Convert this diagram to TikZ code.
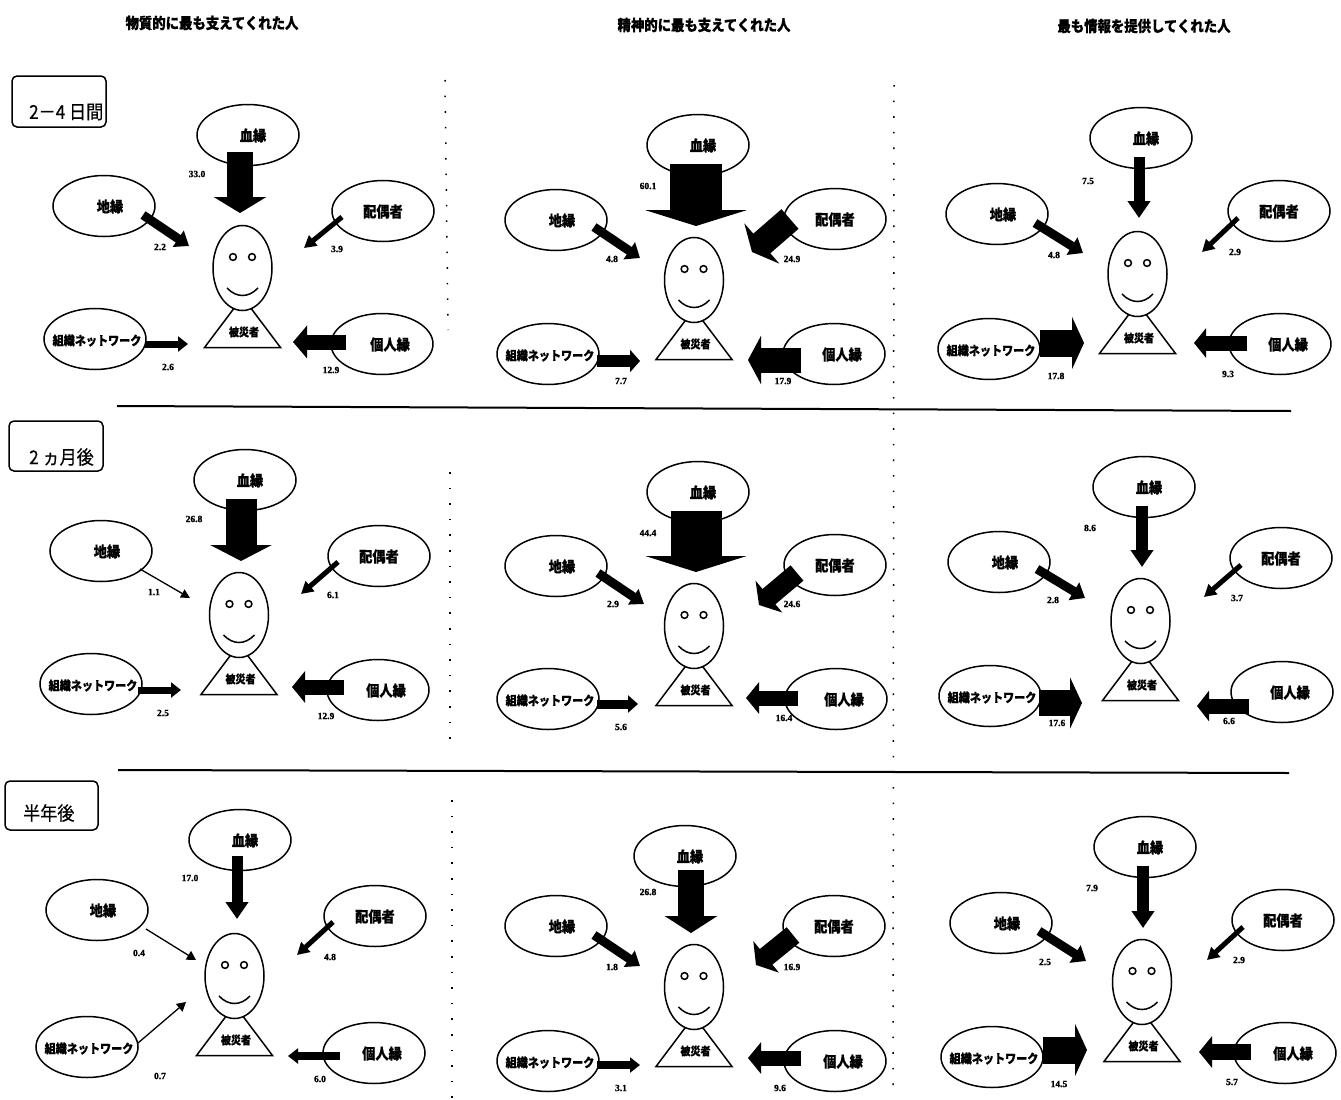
\documentclass[tikz,border=0pt]{standalone}
\usepackage{fontspec}
\setmainfont{Noto Sans CJK JP}[BoldFeatures={FakeStretch=0.88,FakeBold=0.6}]
\newfontfamily\numfont{Liberation Serif}[BoldFeatures={FakeBold=1.2}]
\newfontfamily\rowfont{Noto Sans CJK JP}[FakeStretch=0.9,FakeBold=0.5]
\usetikzlibrary{shapes.geometric,arrows.meta}
\tikzset{
  pic line/.style={line width=1.5pt,black},
  oval/.style={ellipse,draw,pic line,minimum width=102pt,minimum height=61pt,inner sep=0pt,outer sep=0pt},
  headshape/.style={ellipse,draw,pic line,fill=white,minimum width=59pt,minimum height=85pt,inner sep=0pt},
  vlabel/.style={font=\numfont\fontsize{9.5}{10}\selectfont\bfseries,inner sep=0pt},
  coltitle/.style={font=\fontsize{15.2}{16}\selectfont\bfseries,inner sep=0pt},
  rowtext/.style={font=\rowfont\fontsize{19}{20}\selectfont,inner sep=0pt,anchor=west},
  blockarrow/.style n args={3}{black,line width=#1pt,-{Triangle[width=#2pt,length=#3pt,inset=0pt]}},
  dotline/.style={line width=1.5pt,black,dash pattern=on 1.6pt off 14pt},
  rule/.style={line width=2pt,black}
}
% text inside a kin oval: does not enlarge the ellipse
\newcommand\ovtext[2]{\raisebox{-.62em}[0pt][0pt]{\makebox[0pt]{\hspace*{#1pt}#2}}}
\newcommand\kin[5]{\node[oval] (#1) at (#2,#3) {\ovtext{#4}{#5}};}
\newcommand\ovB[3]{\kin{b#1}{#2}{#3}{10}{\fontsize{15}{15}\selectfont\bfseries 血縁}}
\newcommand\ovC[3]{\kin{c#1}{#2}{#3}{12}{\fontsize{15}{15}\selectfont\bfseries 地縁}}
\newcommand\ovS[3]{\kin{s#1}{#2}{#3}{0}{\fontsize{15}{15}\selectfont\bfseries 配偶者}}
\newcommand\ovO[3]{\kin{o#1}{#2}{#3}{4}{\fontsize{12.6}{13}\selectfont\bfseries 組織ネットワーク}}
\newcommand\ovI[3]{\kin{i#1}{#2}{#3}{16}{\fontsize{15}{15}\selectfont\bfseries 個人縁}}
\newcommand\person[3]{%
  \begin{scope}[shift={(#2,#3)}]
    \draw[pic line,fill=white,line join=miter] (0,29) -- (-38,79.5) -- (38,79.5) -- cycle;
    \node[headshape] (h#1) at (0,0) {};
    \draw[pic line] (-9.5,-11) circle (3.4);
    \draw[pic line] (9.5,-11) circle (3.4);
    \draw[pic line] (-15.5,20) .. controls (-6,30) and (6,30) .. (15.5,20);
    \node[inner sep=0pt,font=\fontsize{11.4}{11}\selectfont\bfseries] (t#1) at (1.5,64) {被災者};
  \end{scope}}
\newcommand\ar[7]{\draw[blockarrow={#1}{#2}{#3}] ([shift={(#5)}]#4.center) -- ([shift={(#7)}]#6.center);}
\newcommand\val[4]{\node[vlabel] (#1) at (#2,#3) {#4};}
\begin{document}
\begin{tikzpicture}[x=1pt,y=-1pt]
\useasboundingbox (0,0) rectangle (1341,1100);
% column titles
\node[coltitle] (col1) at (212,23) {物質的に最も支えてくれた人};
\node[coltitle] (col2) at (704,25) {精神的に最も支えてくれた人};
\node[coltitle] (col3) at (1144,26) {最も情報を提供してくれた人};
% row boxes
\draw[pic line,rounded corners=5pt] (12,76) rectangle (106,127);
\node[rowtext] (row1) at (29,112) {2－4 日間};
\draw[pic line,rounded corners=5pt] (9,421) rectangle (103,471);
\node[rowtext] (row2) at (29,457) {2 ヵ月後};
\draw[pic line,rounded corners=5pt] (5,781) rectangle (98,830);
\node[rowtext] (row3) at (23,813) {半年後};
% rules
\coordinate (r1a) at (117,406); \coordinate (r1b) at (1291,411);
\coordinate (r2a) at (118,770); \coordinate (r2b) at (1289,773);
\draw[rule] (r1a) -- (r1b);
\draw[rule] (r2a) -- (r2b);
% dotted column separators
\coordinate (d1a) at (445,80);  \coordinate (d1b) at (448,330);
\coordinate (d2a) at (450,472); \coordinate (d2b) at (450,740);
\coordinate (d3a) at (452,800); \coordinate (d3b) at (452,1098);
\coordinate (d4a) at (894,85);  \coordinate (d4b) at (893,1098);
\draw[dotline] (d1a) -- (d1b);
\draw[dotline] (d2a) -- (d2b);
\draw[dotline] (d3a) -- (d3b);
\draw[dotline] (d4a) -- (d4b);
% value labels
\val{v11b}{197}{174}{33.0}\val{v11c}{160}{247}{2.2}\val{v11s}{337}{249}{3.9}\val{v11o}{168}{367}{2.6}\val{v11i}{331}{370}{12.9}
\val{v12b}{648}{186}{60.1}\val{v12c}{612}{259}{4.8}\val{v12s}{792}{259}{24.9}\val{v12o}{621}{381}{7.7}\val{v12i}{783}{381}{17.9}
\val{v13b}{1088}{181}{7.5}\val{v13c}{1054}{255}{4.8}\val{v13s}{1235}{252}{2.9}\val{v13o}{1056}{376}{17.8}\val{v13i}{1228}{374}{9.3}
\val{v21b}{194}{519}{26.8}\val{v21c}{154}{592}{1.1}\val{v21s}{333}{595}{6.1}\val{v21o}{163}{713}{2.5}\val{v21i}{326}{716}{12.9}
\val{v22b}{648}{533}{44.4}\val{v22c}{613}{604}{2.9}\val{v22s}{792}{604}{24.6}\val{v22o}{621}{727}{5.6}\val{v22i}{784}{718}{16.4}
\val{v23b}{1090}{528}{8.6}\val{v23c}{1053}{600}{2.8}\val{v23s}{1237}{598}{3.7}\val{v23o}{1057}{723}{17.6}\val{v23i}{1229}{721}{6.6}
\val{v31b}{190}{878}{17.0}\val{v31c}{139}{953}{0.4}\val{v31s}{330}{957}{4.8}\val{v31o}{160}{1076}{0.7}\val{v31i}{320}{1079}{6.0}
\val{v32b}{648}{892}{26.8}\val{v32c}{612}{967}{1.8}\val{v32s}{792}{967}{16.9}\val{v32o}{621}{1088}{3.1}\val{v32i}{780}{1088}{9.6}
\val{v33b}{1092}{888}{7.9}\val{v33c}{1045}{962}{2.5}\val{v33s}{1239}{960}{2.9}\val{v33o}{1059}{1084}{14.5}\val{v33i}{1232}{1082}{5.7}
% persons
\person{11}{242.5}{268}\person{12}{694}{280}\person{13}{1137.5}{274}
\person{21}{239}{615}\person{22}{694}{626}\person{23}{1140.5}{621}
\person{31}{234.5}{976}\person{32}{694}{987}\person{33}{1142}{982}
% kin ovals
\ovB{11}{248}{135}\ovC{11}{104}{206}\ovS{11}{383}{211}\ovO{11}{95}{339}\ovI{11}{382}{344}
\ovB{12}{698}{145}\ovC{12}{556}{220}\ovS{12}{835}{219}\ovO{12}{548}{354}\ovI{12}{834}{354}
\ovB{13}{1141}{138}\ovC{13}{997}{214}\ovS{13}{1279}{211}\ovO{13}{989}{349}\ovI{13}{1280}{344}
\ovB{21}{245}{480}\ovC{21}{101}{551}\ovS{21}{379}{556}\ovO{21}{91}{684}\ovI{21}{378}{690}
\ovB{22}{698}{492}\ovC{22}{556}{566}\ovS{22}{835}{565}\ovO{22}{548}{699}\ovI{22}{836}{699}
\ovB{23}{1144}{487}\ovC{23}{999}{562}\ovS{23}{1281}{558}\ovO{23}{990}{696}\ovI{23}{1282}{692}
\ovB{31}{240}{840}\ovC{31}{97}{910}\ovS{31}{375}{916}\ovO{31}{87}{1047}\ovI{31}{374}{1053}
\ovB{32}{685}{856}\ovC{32}{556}{926}\ovS{32}{834}{926}\ovO{32}{548}{1061}\ovI{32}{835}{1061}
\ovB{33}{1145}{847}\ovC{33}{1001}{923}\ovS{33}{1283}{920}\ovO{33}{992}{1057}\ovI{33}{1285}{1053}
% arrows: shaft, head width, head length, from, offset, to, offset
\ar{26}{52}{16}{b11}{-8,17}{h11}{-2.5,-55}
\ar{9}{19}{13}{c11}{39,9}{h11}{-53.5,-22}
\ar{5}{13}{12}{s11}{-41,6}{h11}{61.5,-20}
\ar{7}{15}{10}{o11}{50,5}{h11}{-54.5,76}
\ar{15}{32}{14}{i11}{-36,-2}{h11}{50.5,74}
\ar{52}{102}{16}{b12}{-2,19}{h12}{2,-54}
\ar{9}{20}{13}{c12}{38,7}{h12}{-54,-22}
\ar{26}{53}{13}{s12}{-45,0}{h12}{58,-28}
\ar{12}{22}{10}{o12}{49,7}{h12}{-54,81}
\ar{25}{48}{13}{i12}{-33,6}{h12}{54,80}
\ar{11}{22}{17}{b13}{-2,19}{h13}{1.5,-56}
\ar{9}{20}{13}{c13}{38,9}{h13}{-54.5,-21}
\ar{5}{13}{12}{s13}{-41,7}{h13}{64.5,-22}
\ar{27}{52}{12}{o13}{51,-6}{h13}{-53.5,69}
\ar{15}{29}{12}{i13}{-33,-1}{h13}{56.5,69}
\ar{31}{61}{16}{b21}{-4,19}{h21}{2,-54}
\ar{1.3}{9}{9}{c21}{39,18}{h21}{-49,-17}
\ar{5}{13}{12}{s21}{-41,6}{h21}{62,-21}
\ar{7}{15}{10}{o21}{47,6}{h21}{-58,75}
\ar{15}{31}{13}{i21}{-34,-3}{h21}{53,72}
\ar{51}{101}{16}{b22}{-2,19}{h22}{2,-54}
\ar{9}{18}{13}{c22}{42,7}{h22}{-50,-22}
\ar{20}{41}{13}{s22}{-38,8}{h22}{65,-21}
\ar{9}{17}{10}{o22}{49,5}{h22}{-56,78}
\ar{15}{31}{13}{i22}{-38,-1}{h22}{52,72}
\ar{12}{22}{17}{b23}{-2,19}{h23}{1.5,-54}
\ar{9}{20}{13}{c23}{38,7}{h23}{-55.5,-23}
\ar{5}{13}{12}{s23}{-40,7}{h23}{63.5,-24}
\ar{26}{51}{12}{o23}{49,7}{h23}{-58.5,82}
\ar{15}{30}{12}{i23}{-33,14}{h23}{56.5,85}
\ar{11}{22}{17}{b31}{-3,16}{h31}{2.5,-57}
\ar{1.3}{10}{9}{c31}{49,19}{h31}{-38.5,-16}
\ar{5}{13}{12}{s31}{-42,6}{h31}{62.5,-21}
\ar{1.3}{10}{9}{o31}{51,-4}{h31}{-48.5,26}
\ar{8}{15}{10}{i31}{-34,3}{h31}{53.5,80}
\ar{26}{52}{17}{b32}{6,14}{h32}{-3,-54}
\ar{9}{19}{13}{c32}{38,9}{h32}{-54,-21}
\ar{20}{40}{13}{s32}{-41,9}{h32}{62,-22}
\ar{8}{15}{10}{o32}{49,4}{h32}{-54,78}
\ar{15}{31}{13}{i32}{-34,-3}{h32}{54,71}
\ar{12}{22}{17}{b33}{-2,19}{h33}{1,-54}
\ar{9}{20}{13}{c33}{38,8}{h33}{-56,-21}
\ar{5}{13}{12}{s33}{-40,7}{h33}{65,-22}
\ar{27}{52}{12}{o33}{51,-7}{h33}{-55,68}
\ar{16}{31}{13}{i33}{-34,-1}{h33}{57,70}
\end{tikzpicture}
\end{document}
